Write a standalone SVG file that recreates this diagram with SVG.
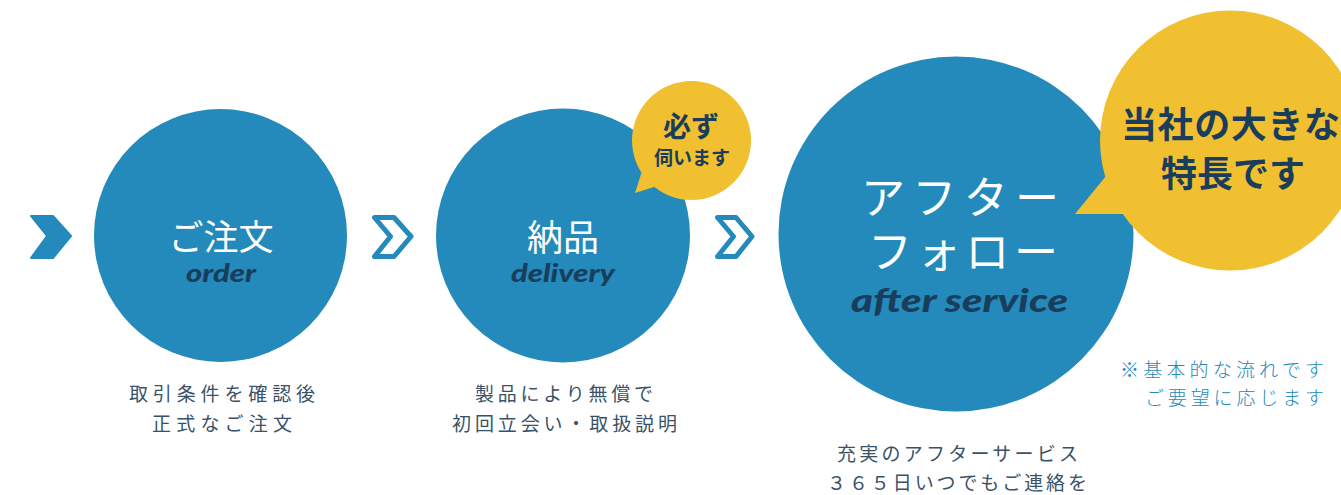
<svg xmlns="http://www.w3.org/2000/svg" width="1341" height="495" viewBox="0 0 1341 495">
<style>
.blue{fill:#238abb}
.yel{fill:#f0c030}
.ttl{font-family:"Noto Sans CJK JP",sans-serif;fill:#ffffff;font-weight:400}
.en{font-family:Lato,"Open Sans",sans-serif;font-style:italic;font-weight:900;fill:#1b3d5c}
.body{font-family:"Noto Sans CJK JP",sans-serif;font-size:19px;fill:#3a5268;font-weight:400}
.note{font-family:"Noto Sans CJK JP",sans-serif;font-size:19px;fill:#238abb;font-weight:300}
.bub{font-family:"Noto Sans CJK JP",sans-serif;fill:#1b3d5c;font-weight:700}
.chev{fill:none;stroke:#238abb;stroke-width:5;stroke-linejoin:round}
</style>
<rect width="1341" height="495" fill="#ffffff"/>
<g id="connectors">
<polygon points="31,216 53,216 71,236 53,258 31,258 47,236" fill="#238abb" stroke="#238abb" stroke-width="2" stroke-linejoin="round"/>
<polygon class="chev" points="374.5,217.5 394,217.5 411,236.5 394,256.5 374.5,256.5 390.5,236.5"/>
<polygon class="chev" points="717.5,217.5 736,217.5 752,236.5 736,256.5 717.5,256.5 733.5,236.5"/>
</g>
<g id="node-order">
<circle class="blue" cx="220.5" cy="235.5" r="126.5"/>
<text class="ttl" x="221" y="250" font-size="35" text-anchor="middle">ご注文</text>
<text class="en" x="186" y="282" font-size="24" textLength="70" lengthAdjust="spacingAndGlyphs">order</text>
<text class="body" x="129" y="401" textLength="186">取引条件を確認後</text>
<text class="body" x="152" y="431" textLength="140">正式なご注文</text>
</g>
<g id="node-delivery">
<circle class="blue" cx="563" cy="235.5" r="127"/>
<text class="ttl" x="563" y="251" font-size="36" text-anchor="middle">納品</text>
<text class="en" x="511" y="282" font-size="24" textLength="104" lengthAdjust="spacingAndGlyphs">delivery</text>
<text class="body" x="475" y="401" textLength="178">製品により無償で</text>
<text class="body" x="452" y="431" textLength="225">初回立会い・取扱説明</text>
</g>
<g id="bubble-small">
<circle class="yel" cx="691.5" cy="140.5" r="59.5"/>
<polygon class="yel" points="643,168 635,193 657,186"/>
<text class="bub" x="691" y="137" font-size="28" text-anchor="middle">必ず</text>
<text class="bub" x="692" y="165" font-size="19" font-weight="500" text-anchor="middle">伺います</text>
</g>
<g id="node-after">
<circle class="blue" cx="956" cy="234" r="177.5"/>
<text class="ttl" x="861" y="214" font-size="44" textLength="198">アフター</text>
<text class="ttl" x="868" y="268" font-size="44" textLength="190">フォロー</text>
<text class="en" x="851" y="312" font-size="33" textLength="217" lengthAdjust="spacingAndGlyphs">after service</text>
<text class="body" x="837" y="461" textLength="241">充実のアフターサービス</text>
<text class="body" x="827" y="490" textLength="260">３６５日いつでもご連絡を</text>
</g>
<g id="bubble-large">
<circle class="yel" cx="1230" cy="140.5" r="130"/>
<polygon class="yel" points="1106,176 1075,214 1125,214"/>
<text class="bub" x="1121" y="138" font-size="36" textLength="219">当社の大きな</text>
<text class="bub" x="1233" y="187" font-size="36" text-anchor="middle">特長です</text>
</g>
<g id="note">
<text class="note" x="1120" y="377" textLength="204">※基本的な流れです</text>
<text class="note" x="1145" y="405" textLength="179">ご要望に応じます</text>
</g>
</svg>
